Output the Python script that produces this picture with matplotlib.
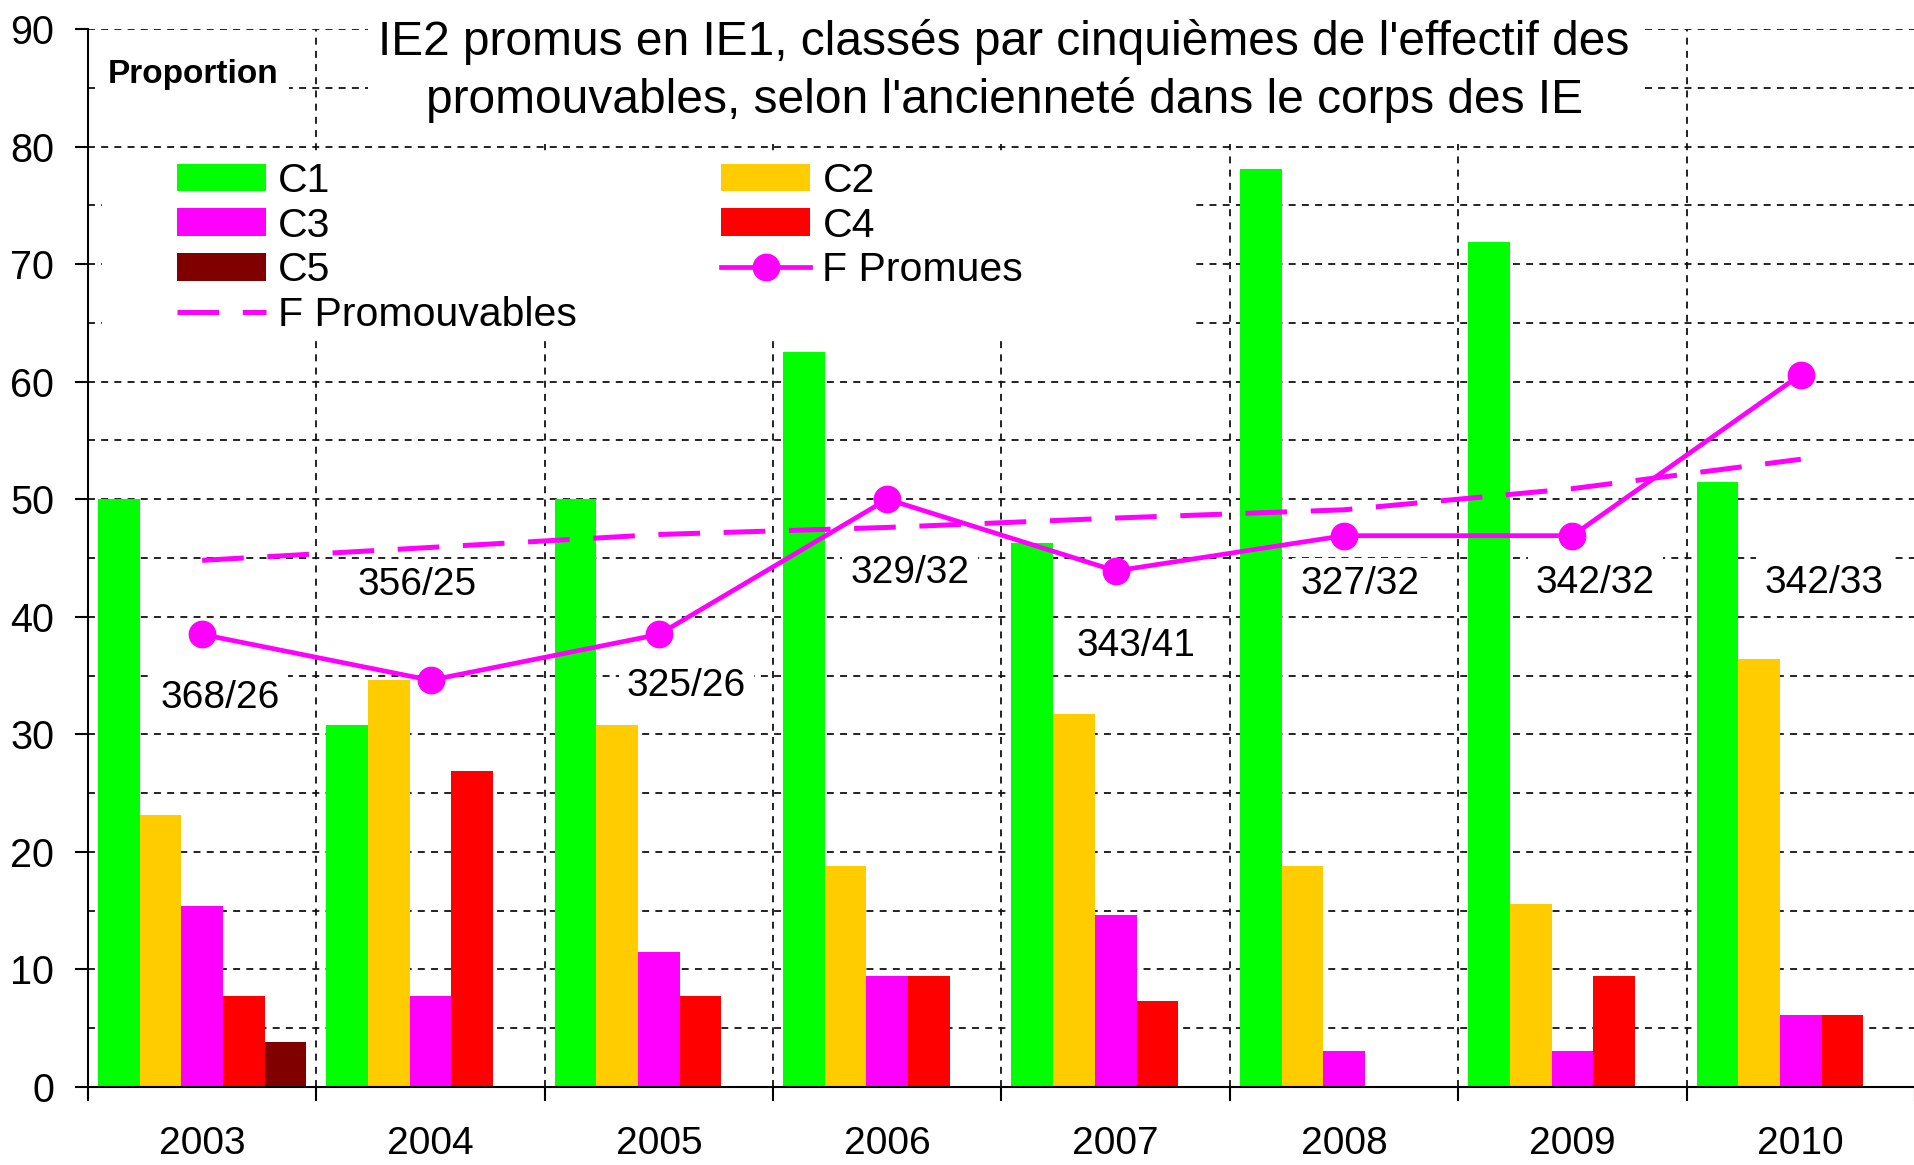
import matplotlib
matplotlib.use("Agg")
import matplotlib.pyplot as plt
from matplotlib.patches import Rectangle
import numpy as np

plt.rcParams['font.family'] = ['Liberation Sans', 'DejaVu Sans']
plt.rcParams['lines.scale_dashes'] = False

# data
years = ['2003', '2004', '2005', '2006', '2007', '2008', '2009', '2010']
c1 = [50.0, 30.8, 50.0, 62.5, 46.3, 78.1, 71.9, 51.5]
c2 = [23.1, 34.6, 30.8, 18.8, 31.7, 18.8, 15.6, 36.4]
c3 = [15.4, 7.7, 11.5, 9.4, 14.6, 3.1, 3.1, 6.1]
c4 = [7.7, 26.9, 7.7, 9.4, 7.3, 0, 9.4, 6.1]
c5 = [3.8, 0, 0, 0, 0, 0, 0, 0]
f_promues = [38.5, 34.6, 38.5, 50.0, 43.9, 46.9, 46.9, 60.6]
f_promouvables = [44.8, 45.9, 47.0, 47.6, 48.4, 49.1, 50.9, 53.4]
n_promouvables = [368, 356, 325, 329, 343, 327, 342, 342]
n_promus = [26, 25, 26, 32, 41, 32, 32, 33]

# where the "promouvables/promus" labels sit (x offset from year centre, y value)
label_dx = [0.08, -0.06, 0.12, 0.10, 0.09, 0.07, 0.10, 0.10]
label_y = [33.1, 42.7, 34.1, 43.7, 37.5, 42.8, 42.9, 42.9]

colors = ['#00FF00', '#FFCC00', '#FF00FF', '#FF0000', '#800000']
names = ['C1', 'C2', 'C3', 'C4', 'C5']

fig = plt.figure(figsize=(19.15, 11.65), dpi=100)
ax = fig.add_axes([88 / 1915, 1 - 1087 / 1165, 1827 / 1915, 1058 / 1165])

x = np.arange(len(years))
w = 0.1825
bars = []
for k, vals in enumerate([c1, c2, c3, c4, c5]):
    b = ax.bar(x + (k - 2) * w, vals, w, color=colors[k], zorder=1, label=names[k])
    bars.append(b)

l_prom, = ax.plot(x, f_promues, color='#FF00FF', lw=3.4, marker='o', ms=19,
                  zorder=4, label='F Promues')
l_pvab, = ax.plot(x, f_promouvables, color='#FF00FF', lw=3.6,
                  dashes=(30, 17), zorder=3, label='F Promouvables')

for i in range(len(years)):
    ax.text(x[i] + label_dx[i], label_y[i], '%d/%d' % (n_promouvables[i], n_promus[i]),
            fontsize=28, ha='center', va='center', zorder=5,
            bbox=dict(facecolor='white', edgecolor='none', pad=6))

ax.set_xlim(-0.5, 7.5)
ax.set_ylim(0, 90)

# axes look
ax.spines['top'].set_visible(False)
ax.spines['right'].set_visible(False)
ax.spines['left'].set_linewidth(1.5)
ax.spines['bottom'].set_linewidth(1.5)

ax.set_yticks(np.arange(0, 91, 10))
ax.set_yticks(np.arange(5, 90, 10), minor=True)
ax.tick_params(axis='y', which='major', direction='out', length=9.5, width=1.5,
               labelsize=28.5, pad=15)
ax.tick_params(axis='y', which='minor', length=0)

ax.set_xticks(np.arange(-0.5, 8, 1))
ax.set_xticks(x, minor=True)
ax.set_xticklabels([])
ax.set_xticklabels(years, minor=True)
ax.tick_params(axis='x', which='major', direction='out', length=10, width=1.5)
ax.tick_params(axis='x', which='minor', length=0, labelsize=28, pad=28)

ax.set_axisbelow(True)
ax.grid(True, axis='y', which='both', color='#111111', lw=1.3, linestyle=(0, (5, 4.5)))
ax.grid(True, axis='x', which='major', color='#111111', lw=1.3, linestyle=(0, (5, 4.5)))

# white areas behind the legend and the title
ax.add_patch(Rectangle((0.0077, 63.7), 0.598, 15.9, transform=ax.get_yaxis_transform(),
                       facecolor='white', edgecolor='none', zorder=1.5))
ax.add_patch(Rectangle((0.153, 80.25), 0.698, 12, transform=ax.get_yaxis_transform(),
                       facecolor='white', edgecolor='none', zorder=1.5, clip_on=False))

handles = [bars[0], bars[2], bars[4], l_pvab, bars[1], bars[3], l_prom]
labels = ['C1', 'C3', 'C5', 'F Promouvables', 'C2', 'C4', 'F Promues']
leg = fig.legend(handles, labels, loc='upper left', bbox_to_anchor=(177 / 1915, 1 - 162 / 1165),
                 ncol=2, frameon=False, fontsize=29.5, borderpad=0, borderaxespad=0,
                 handlelength=2.17, handleheight=0.66, handletextpad=0.3,
                 labelspacing=0.16, columnspacing=3.52, numpoints=1)

fig.text(1004 / 1915, 1 - 71 / 1165,
         "IE2 promus en IE1, classés par cinquièmes de l'effectif des\n"
         "promouvables, selon l'ancienneté dans le corps des IE",
         fontsize=34.5, ha='center', va='center', linespacing=1.36)

fig.text(193 / 1915, 1 - 75 / 1165, 'Proportion', fontsize=24, fontweight='bold',
         ha='center', va='center', bbox=dict(facecolor='white', edgecolor='none', pad=8))

fig.savefig('out.png', dpi=100)
